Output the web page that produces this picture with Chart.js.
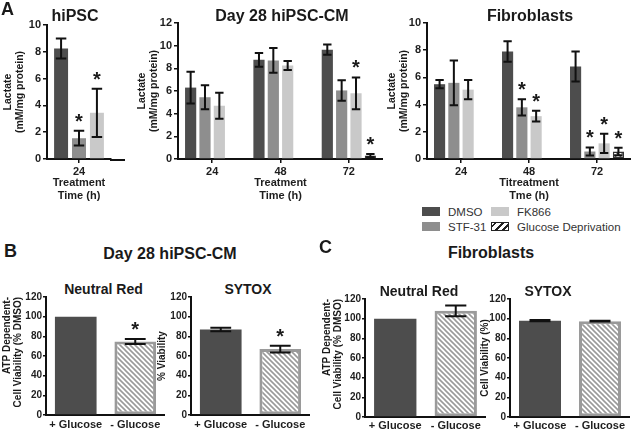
<!DOCTYPE html>
<html><head><meta charset="utf-8">
<script src="https://cdn.jsdelivr.net/npm/chart.js@4.4.1/dist/chart.umd.min.js"></script>
<style>
html,body{margin:0;padding:0;background:#fff;}
#fig{position:relative;width:633px;height:430px;overflow:hidden;font-family:'Liberation Sans',Arial,sans-serif;color:#1a1a1a;}
#fig canvas{position:absolute;}
.t{position:absolute;font-weight:bold;text-align:center;white-space:nowrap;}
.lg{position:absolute;font-size:11.5px;line-height:14px;color:#333;white-space:nowrap;}
.sw{position:absolute;width:18px;height:9px;box-sizing:border-box;}
</style></head><body><div id="fig"></div>
<script>
// ---------------- DATA ----------------
const timeLabels = ['24', '48', '72'];
const hipscLabels = ['24'];
const seriesNames = ['DMSO', 'STF-31', 'FK866', 'Glucose Deprivation'];

// Panel A – hiPSC (24 h only)
const hipscMeans = [[8.25], [1.55], [3.45]];
const hipscErrs  = [[0.75], [0.55], [1.8]];
const hipscSig   = [[0], [1], [1]];

// Panel A – Day 28 hiPSC-CM
const cmMeans = [[6.3, 8.75, 9.65], [5.45, 8.7, 6.05], [4.7, 8.25, 5.8], [null, null, 0.3]];
const cmErrs  = [[1.4, 0.6, 0.45], [1.05, 1.1, 0.9], [1.15, 0.4, 1.4], [null, null, 0.15]];
const cmSig   = [[0, 0, 0], [0, 0, 0], [0, 0, 1], [0, 0, 1]];

// Panel A – Fibroblasts
const fibMeans = [[5.5, 7.9, 6.8], [5.6, 3.8, 0.55], [5.1, 3.15, 1.15], [null, null, 0.55]];
const fibErrs  = [[0.3, 0.75, 1.1], [1.65, 0.6, 0.3], [0.7, 0.4, 0.7], [null, null, 0.27]];
const fibSig   = [[0, 0, 0], [0, 1, 1], [0, 1, 1], [0, 0, 1]];

// Panels B / C
const glucoseLabels = ['+ Glucose', '- Glucose'];
const cmNeutralRed = [100, 74.7];   const cmNeutralRedErr = [0, 2.5];   const cmNeutralRedSig = [0, 1];
const cmSytox      = [87, 67];      const cmSytoxErr      = [1.8, 3.5]; const cmSytoxSig      = [0, 1];
const fibNeutralRed = [100, 108];   const fibNeutralRedErr = [0, 5.5];  const fibNeutralRedSig = [0, 0];
const fibSytox      = [98, 97.5];   const fibSytoxErr      = [0.6, 0.5]; const fibSytoxSig     = [0, 0];

// ---------------- STYLE ----------------
const FONT = "'Liberation Sans', Arial, sans-serif";
const seriesColors = ['#4d4d4d', '#8e8e8e', '#c9c9c9'];
Chart.defaults.font.family = FONT;
Chart.defaults.font.weight = 'bold';
Chart.defaults.color = '#1e1e1e';
Chart.defaults.animation = false;

function hatch(line, bg, s, lw) {
  const c = document.createElement('canvas'); c.width = s; c.height = s;
  const g = c.getContext('2d');
  g.fillStyle = bg; g.fillRect(0, 0, s, s);
  g.strokeStyle = line; g.lineWidth = lw; g.lineCap = 'square';
  g.beginPath();
  g.moveTo(-1, -1); g.lineTo(s + 1, s + 1);
  g.moveTo(-1, s - 1); g.lineTo(1, s + 1);
  g.moveTo(s - 1, -1); g.lineTo(s + 1, 1);
  g.stroke();
  return g.createPattern(c, 'repeat');
}
const hatchDark = hatch('#333', '#fff', 5, 1.3);
const hatchGray = hatch('#9a9a9a', '#fff', 5, 1.6);

const errorBarPlugin = {
  id: 'errorBars',
  defaults: { cap: 0.75, lineWidth: 2, starGap: 3 },
  afterDatasetsDraw(chart, args, opts) {
    const ctx = chart.ctx, ys = chart.scales.y;
    chart.data.datasets.forEach((ds, i) => {
      const meta = chart.getDatasetMeta(i);
      meta.data.forEach((bar, j) => {
        const v = ds.data[j]; if (v == null) return;
        const e = (ds.errors && ds.errors[j]) || 0;
        const top = ys.getPixelForValue(v + e), bot = ys.getPixelForValue(v - e);
        const half = bar.width * opts.cap / 2;
        ctx.save();
        if (e) {
          ctx.strokeStyle = '#111'; ctx.lineWidth = opts.lineWidth;
          ctx.beginPath();
          ctx.moveTo(bar.x, top); ctx.lineTo(bar.x, bot);
          ctx.moveTo(bar.x - half, top); ctx.lineTo(bar.x + half, top);
          ctx.moveTo(bar.x - half, bot); ctx.lineTo(bar.x + half, bot);
          ctx.stroke();
        }
        if (ds.sig && ds.sig[j]) {
          ctx.fillStyle = '#1a1a1a'; ctx.font = 'bold 20px ' + FONT;
          ctx.textAlign = 'center'; ctx.textBaseline = 'alphabetic';
          ctx.fillText('*', bar.x, Math.min(top, bar.y) - opts.starGap);
        }
        ctx.restore();
      });
    });
  }
};
const axisExtendPlugin = {
  id: 'axisExtend',
  defaults: { right: 0 },
  afterDraw(chart, args, opts) {
    if (!opts.right) return;
    const { ctx, chartArea } = chart;
    const b = chart.scales.x.options.border;
    ctx.save(); ctx.strokeStyle = b.color; ctx.lineWidth = b.width;
    ctx.beginPath();
    ctx.moveTo(chartArea.right - 1, chartArea.bottom + b.width / 2);
    ctx.lineTo(chartArea.right + opts.right, chartArea.bottom + b.width / 2);
    ctx.stroke(); ctx.restore();
  }
};
Chart.register(errorBarPlugin, axisExtendPlugin);

const fig = document.getElementById('fig');
function addText(txt, cx, cy, size) {
  const d = document.createElement('div');
  d.className = 't'; d.textContent = txt;
  d.style.fontSize = size + 'px'; d.style.lineHeight = size + 'px';
  d.style.width = '300px'; d.style.left = (cx - 150) + 'px'; d.style.top = (cy - size / 2) + 'px';
  fig.appendChild(d);
}
function addLetter(txt, x, y) {
  const d = document.createElement('div');
  d.className = 't'; d.textContent = txt; d.style.textAlign = 'left';
  d.style.fontSize = '18px'; d.style.lineHeight = '18px';
  d.style.left = x + 'px'; d.style.top = y + 'px';
  fig.appendChild(d);
}

function makeChart(o) {
  const cv = document.createElement('canvas');
  cv.width = o.w; cv.height = o.h;
  cv.style.left = o.l + 'px'; cv.style.top = o.t + 'px';
  cv.style.width = o.w + 'px'; cv.style.height = o.h + 'px';
  fig.appendChild(cv);
  const yW = o.axisX - o.l, xH = o.t + o.h - o.axisBottom;
  return new Chart(cv, {
    type: 'bar',
    data: { labels: o.labels, datasets: o.datasets },
    options: {
      responsive: false, animation: false, devicePixelRatio: 1,
      layout: { padding: { top: o.axisTop - o.t, right: o.padRight || 0, left: 0, bottom: 0 } },
      plugins: {
        legend: { display: false }, tooltip: { enabled: false }, title: { display: false },
        errorBars: o.err || {}, axisExtend: { right: o.extend || 0 }
      },
      scales: {
        x: {
          offset: true,
          grid: { display: o.xTicks, drawTicks: o.xTicks, drawOnChartArea: false, offset: false, tickLength: 4, color: '#111', lineWidth: 1.5 },
          border: { display: true, color: '#111', width: 2 },
          ticks: { font: { size: 11, weight: 'bold' }, padding: o.xTickPad, maxRotation: 0, minRotation: 0, autoSkip: false, color: '#1e1e1e' },
          title: { display: !!o.xTitle, text: o.xTitle, font: { size: 11, weight: 'bold', lineHeight: '12.5px' }, padding: { top: 0, bottom: 0 }, color: '#1e1e1e' },
          afterFit(s) { s.height = xH; }
        },
        y: {
          min: 0, max: o.yMax,
          ticks: { stepSize: o.yStep, font: { size: o.yTickSize, weight: 'bold' }, padding: o.yTickPad, color: '#1e1e1e' },
          grid: { display: true, drawOnChartArea: false, tickLength: o.yTickLen, color: '#111', lineWidth: 1.5 },
          border: { display: true, color: '#111', width: 2 },
          title: { display: true, text: o.yTitle, align: o.yAlign || 'center', font: { size: o.yTitleSize || 10, weight: 'bold', lineHeight: o.yLH }, padding: { top: 2, bottom: 0 }, color: '#1a1a1a' },
          afterFit(s) { s.width = yW; }
        }
      }
    }
  });
}

function seriesDatasets(means, errs, sig, n) {
  const out = [];
  for (let i = 0; i < n; i++) {
    const glucose = i === 3;
    out.push({
      label: seriesNames[i], data: means[i], errors: errs[i], sig: sig[i],
      backgroundColor: glucose ? hatchDark : seriesColors[i],
      borderColor: glucose ? '#333' : seriesColors[i],
      borderWidth: glucose ? 1.5 : 0, borderSkipped: false,
      categoryPercentage: 0.84, barPercentage: 0.78
    });
  }
  return out;
}
function glucoseDataset(vals, errs, sig) {
  return [{
    label: 'Viability', data: vals, errors: errs, sig: sig,
    backgroundColor: [seriesColors[0], hatchGray],
    borderColor: [seriesColors[0], '#9a9a9a'],
    borderWidth: [0, 3], borderSkipped: false,
    categoryPercentage: 1, barPercentage: 0.7
  }];
}

const lactateTitle = ['Lactate', '(mM/mg protein)'];
// ---- Panel A ----
makeChart({ l: 0, t: 0, w: 126, h: 202, axisX: 47, axisTop: 25, axisBottom: 159, padRight: 15, extend: 14,
  labels: hipscLabels, datasets: seriesDatasets(hipscMeans, hipscErrs, hipscSig, 3),
  yMax: 10, yStep: 2, yTickSize: 11, yTickLen: 4, yTickPad: 2, yTitle: lactateTitle, yTitleSize: 10.5, yLH: '12px',
  xTicks: true, xTickPad: 2, xTitle: ['Treatment', 'Time (h)'] });
makeChart({ l: 134, t: 0, w: 249, h: 202, axisX: 178, axisTop: 23, axisBottom: 159,
  labels: timeLabels, datasets: seriesDatasets(cmMeans, cmErrs, cmSig, 4),
  yMax: 12, yStep: 2, yTickSize: 11, yTickLen: 4, yTickPad: 2, yTitle: lactateTitle, yTitleSize: 10.5, yLH: '12px',
  xTicks: true, xTickPad: 2, xTitle: ['Treatment', 'Time (h)'] });
makeChart({ l: 384, t: 0, w: 247, h: 202, axisX: 427, axisTop: 23, axisBottom: 159,
  labels: timeLabels, datasets: seriesDatasets(fibMeans, fibErrs, fibSig, 4),
  yMax: 10, yStep: 2, yTickSize: 11, yTickLen: 4, yTickPad: 2, yTitle: lactateTitle, yTitleSize: 10.5, yLH: '12px',
  xTicks: true, xTickPad: 2, xTitle: ['Titreatment', 'Tme (h)'] });

addLetter('A', 1, 0);
addText('hiPSC', 75, 16, 16);
addText('Day 28 hiPSC-CM', 282, 16, 16);
addText('Fibroblasts', 530, 16, 16);

// Legend (panel A)
const legendPos = [[422, 207], [422, 222], [491, 207], [491, 222]];
seriesNames.forEach((name, i) => {
  const [x, y] = legendPos[i];
  const sw = document.createElement('div'); sw.className = 'sw';
  sw.style.left = x + 'px'; sw.style.top = y + 'px';
  if (i === 3) {
    sw.style.border = '1.5px solid #222';
    sw.style.background = 'repeating-linear-gradient(135deg,#fff 0 2px,#222 2px 3.5px,#fff 3.5px 5px)';
  } else sw.style.background = seriesColors[i];
  fig.appendChild(sw);
  const tx = document.createElement('div'); tx.className = 'lg'; tx.textContent = name;
  tx.style.left = (x + 26) + 'px'; tx.style.top = (y - 2.5) + 'px';
  fig.appendChild(tx);
});

// ---- Panel B ----
addLetter('B', 4, 242);
addText('Day 28 hiPSC-CM', 170, 253.5, 16);
addText('Neutral Red', 103.5, 288.5, 14);
addText('SYTOX', 248, 288.5, 14);
const atpTitle = ['ATP Dependent-', 'Cell Viability (% DMSO)'];
makeChart({ l: 0, t: 275, w: 165, h: 155, axisX: 46, axisTop: 297, axisBottom: 415,
  labels: glucoseLabels, datasets: glucoseDataset(cmNeutralRed, cmNeutralRedErr, cmNeutralRedSig),
  yMax: 120, yStep: 20, yTickSize: 10, yTickLen: 3, yTickPad: 1, yTitle: atpTitle, yAlign: 'end', yLH: '10.5px',
  xTicks: false, xTickPad: 3, err: { cap: 0.5 } });
makeChart({ l: 155, t: 275, w: 155, h: 155, axisX: 191, axisTop: 297, axisBottom: 415,
  labels: glucoseLabels, datasets: glucoseDataset(cmSytox, cmSytoxErr, cmSytoxSig),
  yMax: 120, yStep: 20, yTickSize: 10, yTickLen: 3, yTickPad: 1, yTitle: '% Viability', yLH: '10.5px',
  xTicks: false, xTickPad: 3, err: { cap: 0.5 } });

// ---- Panel C ----
addLetter('C', 319, 238);
addText('Fibroblasts', 491, 253, 16);
addText('Neutral Red', 419, 290.5, 14);
addText('SYTOX', 548, 290.5, 14);
makeChart({ l: 320, t: 275, w: 166, h: 155, axisX: 365, axisTop: 299, axisBottom: 417,
  labels: glucoseLabels, datasets: glucoseDataset(fibNeutralRed, fibNeutralRedErr, fibNeutralRedSig),
  yMax: 120, yStep: 20, yTickSize: 10, yTickLen: 3, yTickPad: 1, yTitle: atpTitle, yAlign: 'end', yLH: '10.5px',
  xTicks: false, xTickPad: 2, err: { cap: 0.5 } });
makeChart({ l: 478, t: 275, w: 152, h: 155, axisX: 510, axisTop: 299, axisBottom: 417,
  labels: glucoseLabels, datasets: glucoseDataset(fibSytox, fibSytoxErr, fibSytoxSig),
  yMax: 120, yStep: 20, yTickSize: 10, yTickLen: 3, yTickPad: 1, yTitle: 'Cell Viability (%)', yLH: '10.5px',
  xTicks: false, xTickPad: 2, err: { cap: 0.5 } });
</script></body></html>
